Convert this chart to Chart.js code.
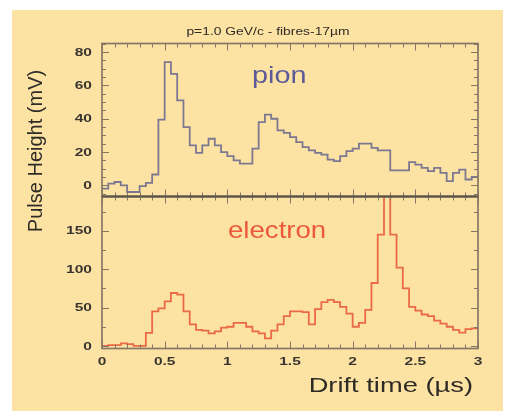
<!DOCTYPE html>
<html>
<head>
<meta charset="utf-8">
<title>Pulse height vs drift time</title>
<script src="https://cdn.jsdelivr.net/npm/chart.js@4.4.1/dist/chart.umd.min.js"></script>
<style>
  html, body { margin: 0; padding: 0; background: #fff; }
  canvas { display: block; }
</style>
</head>
<body>
<canvas id="pulse" width="510" height="411"></canvas>
<script>
/* drift-time spectra: pion vs electron, p = 1 GeV/c, 17 µm fibres */

const BIN_WIDTH = 0.05; // µs per histogram bin

// average pulse height per bin (mV), pion sample
const PION_MV = [
  -2, 1, 2, 0, -4, -4, -0.5, 1.5, 6.5, 39.5,
  74, 67, 51, 35, 24, 19.5, 24, 28, 24, 20,
  17.5, 15, 13, 13, 22, 38, 42.5, 40, 33, 31.5,
  29, 26, 23, 21, 19.5, 18.5, 15.5, 14.5, 17.5, 20.5,
  22, 25, 25, 22.5, 21, 21, 9, 9, 9, 14,
  12.5, 10.5, 8.5, 10.5, 7.5, 2.5, 7.5, 9.5, 3.5, 5
];

// electron sample (TR photon peak near 2.3 µs runs off scale)
const ELECTRON_MV = [
  0, 1, 1, 3.5, 2.5, 0, 0, 17, 45, 49,
  58, 69, 67, 45, 28, 21, 20, 16.5, 19, 24,
  25, 30, 30, 25, 19, 16.5, 10, 20, 28, 39,
  45, 45, 44, 28, 48, 57, 60, 57, 51, 42,
  25, 30, 47, 82, 145, 215, 145, 102, 75, 51,
  46, 41, 39, 33, 29, 25, 21, 17.5, 22, 23
];

const X_TICKS = [0, 0.5, 1, 1.5, 2, 2.5, 3];
const X_LABELS = ["0", "0.5", "1", "1.5", "2", "2.5", "3"];
const TOP_TICKS = [0, 20, 40, 60, 80];
const BOT_TICKS = [0, 50, 100, 150];

const PAPER = "#fde3a3";
const FRAME = "#857763";
const INK = "#2e2b27";
const PION_COLOR = "#7c7891";
const ELECTRON_COLOR = "#ea6a47";

// histogram -> step polyline: one point per left bin edge plus closing edge
function toSteps(values) {
  const pts = values.map((v, i) => ({ x: +(i * BIN_WIDTH).toFixed(3), y: v }));
  pts.push({ x: +(values.length * BIN_WIDTH).toFixed(3), y: values[values.length - 1] });
  return pts;
}

// the original plot uses a wide sans, so text is stretched horizontally
function text(ctx, str, x, y, o) {
  ctx.save();
  ctx.translate(x, y);
  if (o.rotate) ctx.rotate(o.rotate);
  ctx.scale(o.stretch || 1, 1);
  ctx.font = o.font;
  ctx.fillStyle = o.color || INK;
  ctx.textAlign = o.align || "center";
  ctx.textBaseline = o.baseline || "middle";
  ctx.fillText(str, 0, 0);
  ctx.restore();
}

function range(from, to, step) {
  const out = [];
  const n = Math.round((to - from) / step);
  for (let i = 0; i <= n; i++) out.push(+(from + i * step).toFixed(4));
  return out;
}

const panelFrame = {
  id: "panelFrame",
  beforeDraw(chart) {
    const { ctx } = chart;
    ctx.save();
    ctx.fillStyle = "#fff";
    ctx.fillRect(0, 0, chart.width, chart.height);
    ctx.fillStyle = PAPER;
    ctx.fillRect(12, 10, 491, 401);
    ctx.restore();
  },
  // keep each histogram inside its own panel
  beforeDatasetDraw(chart, args) {
    const meta = chart.getDatasetMeta(args.index);
    const x = meta.xScale, y = meta.yScale;
    chart.ctx.save();
    chart.ctx.beginPath();
    chart.ctx.rect(x.left, y.top, x.right - x.left, y.bottom - y.top);
    chart.ctx.clip();
  },
  afterDatasetDraw(chart) {
    chart.ctx.restore();
  },
  afterDraw(chart) {
    const { ctx } = chart;
    const xs = chart.scales.x;
    const panels = [
      { s: chart.scales.yTop, major: TOP_TICKS, minor: range(-5, 85, 5) },
      { s: chart.scales.yBot, major: BOT_TICKS, minor: range(0, 175, 25) }
    ];
    const xMinor = range(0, 3, 0.1);

    ctx.save();
    ctx.lineWidth = 1;
    ctx.strokeStyle = FRAME;
    for (const p of panels) {
      const ys = p.s;
      ctx.beginPath();
      // y ticks, inward on both sides
      for (const v of p.minor) {
        if (v < ys.min || v > ys.max) continue;
        const py = Math.round(ys.getPixelForValue(v)) + 0.5;
        const len = p.major.includes(v) ? 7 : 4;
        ctx.moveTo(xs.left, py); ctx.lineTo(xs.left + len, py);
        ctx.moveTo(xs.right, py); ctx.lineTo(xs.right - len, py);
      }
      // x ticks, inward on top and bottom edge of the panel
      for (const v of xMinor) {
        const px = Math.round(xs.getPixelForValue(v)) + 0.5;
        const len = X_TICKS.includes(v) ? 7 : 4;
        ctx.moveTo(px, ys.bottom); ctx.lineTo(px, ys.bottom - len);
        ctx.moveTo(px, ys.top); ctx.lineTo(px, ys.top + len);
      }
      ctx.stroke();
      ctx.lineWidth = 1.7;
      ctx.strokeRect(xs.left, ys.top, xs.right - xs.left, ys.bottom - ys.top);
      ctx.lineWidth = 1;
    }
    // shared edge between the panels
    ctx.strokeStyle = "#5a5349";
    ctx.lineWidth = 1.8;
    ctx.beginPath();
    ctx.moveTo(xs.left, chart.scales.yTop.bottom);
    ctx.lineTo(xs.right, chart.scales.yTop.bottom);
    ctx.stroke();
    ctx.restore();

    // tick labels
    const tickFont = "bold 11.5px 'Liberation Sans', Arial, sans-serif";
    for (const p of panels) {
      for (const v of p.major) {
        text(ctx, String(v), xs.left - 10, p.s.getPixelForValue(v) + 0.5,
          { font: tickFont, align: "right", stretch: 1.35, color: "#3a3530" });
      }
    }
    X_TICKS.forEach((v, i) => {
      text(ctx, X_LABELS[i], xs.getPixelForValue(v), 362,
        { font: tickFont, stretch: 1.35, color: "#3a3530" });
    });

    // titles
    text(ctx, "p=1.0 GeV/c - fibres-17\u00b5m", 268, 32,
      { font: "11px 'Liberation Sans', Arial, sans-serif", stretch: 1.26 });
    text(ctx, "Pulse Height (mV)", 36, 151,
      { font: "20px 'Liberation Sans', Arial, sans-serif", rotate: -Math.PI / 2 });
    text(ctx, "Drift time (\u00b5s)", 473, 386,
      { font: "21px 'Liberation Sans', Arial, sans-serif", align: "right", stretch: 1.3 });

    // particle labels
    text(ctx, "pion", 252, 82.5,
      { font: "24px 'Liberation Sans', Arial, sans-serif", align: "left", baseline: "alphabetic", stretch: 1.2, color: "#5d5a98" });
    text(ctx, "electron", 228, 238,
      { font: "24px 'Liberation Sans', Arial, sans-serif", align: "left", baseline: "alphabetic", stretch: 1.15, color: "#ec5a3b" });
  }
};

new Chart(document.getElementById("pulse"), {
  type: "line",
  data: {
    datasets: [
      {
        label: "pion",
        data: toSteps(PION_MV),
        yAxisID: "yTop",
        borderColor: PION_COLOR,
        borderWidth: 1.8,
        stepped: "before", // value of a point holds until the next bin edge
        pointRadius: 0,
        fill: false
      },
      {
        label: "electron",
        data: toSteps(ELECTRON_MV),
        yAxisID: "yBot",
        borderColor: ELECTRON_COLOR,
        borderWidth: 1.8,
        stepped: "before",
        pointRadius: 0,
        fill: false
      }
    ]
  },
  options: {
    responsive: false,
    animation: false,
    devicePixelRatio: 1,
    layout: { padding: { left: 102, right: 32, top: 43.5, bottom: 62.5 } },
    plugins: { legend: { display: false }, tooltip: { enabled: false } },
    scales: {
      x: { type: "linear", min: 0, max: 3, display: false },
      // stacked boxes are placed last-first, so the lower panel is listed first
      yBot: {
        type: "linear", position: "left", stack: "panels", stackWeight: 152,
        min: -3.3, max: 194.7, display: false,
        afterBuildTicks: (s) => { s.ticks = BOT_TICKS.map((value) => ({ value })); }
      },
      yTop: {
        type: "linear", position: "left", stack: "panels", stackWeight: 153,
        min: -6.7, max: 85.2, display: false,
        afterBuildTicks: (s) => { s.ticks = TOP_TICKS.map((value) => ({ value })); }
      }
    }
  },
  plugins: [panelFrame]
});
</script>
</body>
</html>
